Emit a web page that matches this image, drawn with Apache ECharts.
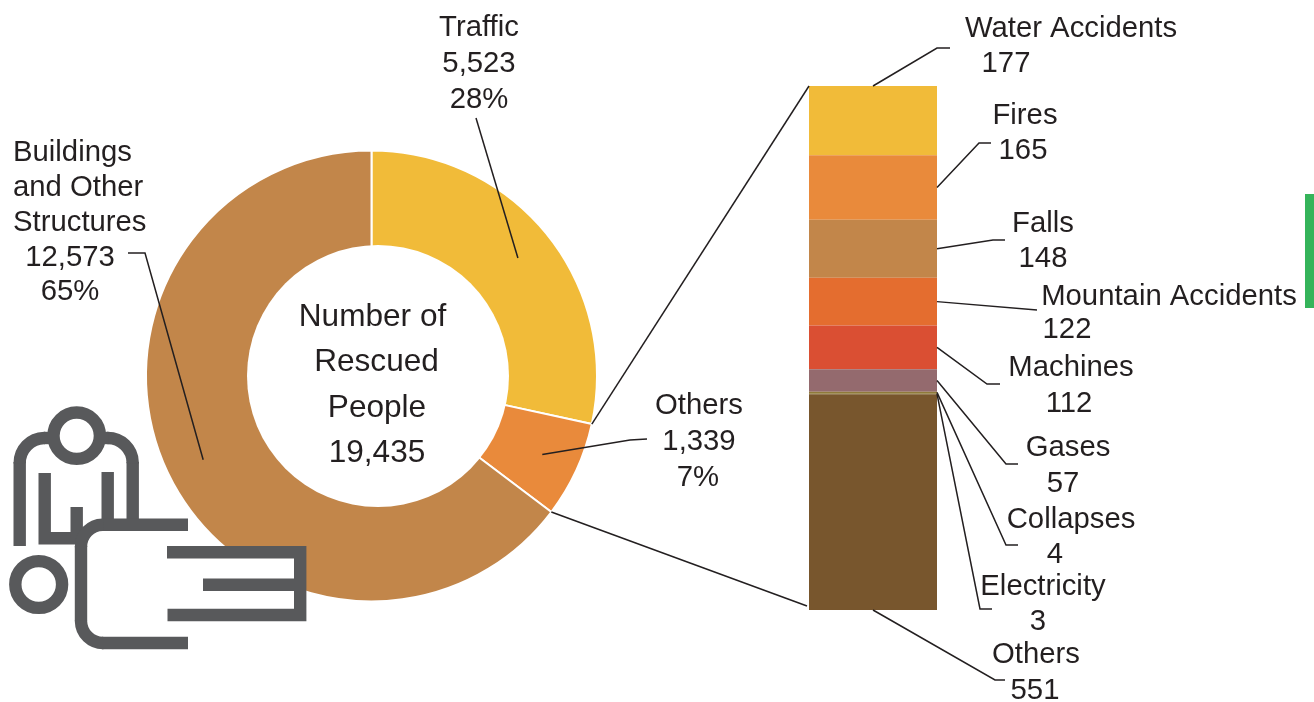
<!DOCTYPE html>
<html>
<head>
<meta charset="utf-8">
<title>Number of Rescued People</title>
<style>
  html, body { margin: 0; padding: 0; background: #fff; }
  #chart { width: 1314px; height: 702px; }
</style>
<script src="https://cdn.jsdelivr.net/npm/echarts@6/dist/echarts.min.js"></script>
</head>
<body>
<div id="chart"></div>
<script>
// Rescues by accident type
const totalLabel = '19,435';
const typeNames = ['Traffic', 'Others', 'Buildings and Other Structures'];
const typeValues = [5523, 1339, 12573];
const typeShares = ['28%', '7%', '65%'];

// Breakdown of the "Others" slice
const detailNames = ['Water Accidents', 'Fires', 'Falls', 'Mountain Accidents', 'Machines', 'Gases', 'Collapses', 'Electricity', 'Others'];
const detailValues = [177, 165, 148, 122, 112, 57, 4, 3, 551];

const typeColors = ['#f1bb39', '#e98a3b', '#c2864a'];
const detailColors = ['#f1bb39', '#e98a3b', '#c2864a', '#e46d2f', '#da4f33', '#946a6e', '#8f7a3a', '#8f7a3a', '#78562d'];

const INK = '#231f20';
const ICON = '#58595b';
const FONT = '29.3px "Liberation Sans", Arial, sans-serif';
const CENTRE_FONT = '31.6px "Liberation Sans", Arial, sans-serif';
const PIE = { cx: 371.5, cy: 376, inner: 118, outer: 225.5 };
const HOLE = { cx: 378, cy: 376, r: 131 };
const BAR = { left: 809, top: 86, width: 128, height: 524 };
const fmt = v => v.toLocaleString('en-US');

const chart = echarts.init(document.getElementById('chart'), null, { renderer: 'canvas' });

const detailTotal = detailValues.reduce((a, b) => a + b, 0);
const typeTotal = typeValues.reduce((a, b) => a + b, 0);

chart.setOption({
  animation: false,
  backgroundColor: '#fff',
  grid: { left: BAR.left, top: BAR.top, width: BAR.width, height: BAR.height },
  xAxis: { type: 'category', data: ['Others'], show: false },
  yAxis: { type: 'value', inverse: true, min: 0, max: detailTotal, show: false },
  series: [
    {
      type: 'pie',
      center: [PIE.cx, PIE.cy],
      radius: [PIE.inner, PIE.outer],
      startAngle: 90,
      clockwise: true,
      silent: true,
      label: { show: false },
      labelLine: { show: false },
      itemStyle: { borderColor: '#fff', borderWidth: 2 },
      data: typeNames.map((name, i) => ({
        name, value: typeValues[i], itemStyle: { color: typeColors[i] }
      }))
    },
    ...detailNames.map((name, i) => ({
      type: 'bar',
      name,
      stack: 'others',
      barWidth: '100%',
      silent: true,
      itemStyle: { color: detailColors[i] },
      data: [detailValues[i]]
    }))
  ]
});

// Point on the donut, given clockwise degrees from twelve o'clock
function onPie(deg, r) {
  const a = deg * Math.PI / 180;
  return [PIE.cx + r * Math.sin(a), PIE.cy - r * Math.cos(a)];
}
// Clockwise angle at the end of slice i
function sliceEnd(i) {
  return typeValues.slice(0, i + 1).reduce((a, b) => a + b, 0) / typeTotal * 360;
}
function sliceMid(i) {
  return sliceEnd(i) - typeValues[i] / typeTotal * 180;
}
// Vertical pixel of a cumulative value on the stacked bar
function barY(v) {
  return chart.convertToPixel({ yAxisIndex: 0 }, v);
}
function segmentMid(i) {
  const before = detailValues.slice(0, i).reduce((a, b) => a + b, 0);
  return barY(before + detailValues[i] / 2);
}

const elements = [];
const text = (t, x, y, align, font) => elements.push({
  type: 'text', z: 20,
  style: { text: t, x, y: y + 2, fill: INK, font: font || FONT, align: align || 'center', verticalAlign: 'middle' }
});
const line = (points, color, width, z) => elements.push({
  type: 'polyline', z: z || 15,
  shape: { points },
  style: { stroke: color || INK, lineWidth: width || 1.5, fill: null, lineJoin: 'miter' }
});

// Hole of the donut, sitting slightly right of the ring's centre
elements.push({
  type: 'circle', z: 10,
  shape: { cx: HOLE.cx, cy: HOLE.cy, r: HOLE.r },
  style: { fill: '#fff' }
});

// Centre of the donut
text('Number of', 372.5, 315, 'center', CENTRE_FONT);
text('Rescued', 376.5, 360, 'center', CENTRE_FONT);
text('People', 377, 406, 'center', CENTRE_FONT);
text(totalLabel, 377, 451, 'center', CENTRE_FONT);

// Slice labels
text(typeNames[0], 479, 26);
text(fmt(typeValues[0]), 479, 62);
text(typeShares[0], 479, 98);

text(typeNames[1], 699, 404);
text(fmt(typeValues[1]), 699, 440);
text(typeShares[1], 698, 476);

text('Buildings', 13, 151, 'left');
text('and Other', 13, 186, 'left');
text('Structures', 13, 221, 'left');
text(fmt(typeValues[2]), 70, 256);
text(typeShares[2], 70, 290);

// Slice leaders
const LEAD_R = 188;
line([onPie(sliceMid(0), LEAD_R), [476, 118]]);
line([onPie(sliceMid(1), LEAD_R), [630, 440], [647, 439]]);
line([onPie(sliceMid(2), LEAD_R), [145, 253], [128, 253]]);

// Lines joining the "Others" slice to the stacked bar
line([onPie(sliceEnd(0), PIE.outer), [BAR.left, BAR.top]]);
line([onPie(sliceEnd(1), PIE.outer), [BAR.left - 2, BAR.top + BAR.height - 4]]);

// Bar segment labels: name position, value position, leader elbow and tail
const detailLayout = [
  { name: [1071, 27],  value: [1006, 62],  elbow: [937, 48],  tail: [950, 48] },
  { name: [1025, 114], value: [1023, 149], elbow: [979, 143], tail: [991, 143] },
  { name: [1043, 222], value: [1043, 257], elbow: [993, 240], tail: [1005, 240] },
  { name: [1169, 295], value: [1067, 328], elbow: [1037, 310] },
  { name: [1071, 366], value: [1069, 402], elbow: [987, 384], tail: [1000, 384] },
  { name: [1068, 446], value: [1063, 482], elbow: [1006, 464], tail: [1018, 464] },
  { name: [1071, 518], value: [1055, 553], elbow: [1006, 545], tail: [1018, 545] },
  { name: [1043, 585], value: [1038, 620], elbow: [980, 609], tail: [992, 609] },
  { name: [1036, 653], value: [1035, 689], elbow: [995, 680], tail: [1005, 680] }
];
const barCentre = BAR.left + BAR.width / 2;
const barRight = BAR.left + BAR.width;
detailNames.forEach((name, i) => {
  const l = detailLayout[i];
  text(name, l.name[0], l.name[1]);
  text(fmt(detailValues[i]), l.value[0], l.value[1]);
  let start;
  if (i === 0) start = [barCentre, barY(0)];
  else if (i === detailNames.length - 1) start = [barCentre, barY(detailTotal)];
  else start = [barRight, segmentMid(i)];
  line(l.tail ? [start, l.elbow, l.tail] : [start, l.elbow]);
});

// Accent tab on the right edge
elements.push({
  type: 'rect', z: 5,
  shape: { x: 1305, y: 194, width: 9, height: 114 },
  style: { fill: '#35b45a' }
});

// Rescuer and casualty pictogram, drawn over the donut
const ICON_W = 12.4;
elements.push({
  type: 'rect', z: 30,
  shape: { x: 84, y: 550, width: 218, height: 68 },
  style: { fill: '#fff' }
});
const ring = (cx, cy, r) => elements.push({
  type: 'circle', z: 32,
  shape: { cx, cy, r },
  style: { fill: null, stroke: ICON, lineWidth: ICON_W }
});
const arc = (cx, cy, r, a0, a1) => elements.push({
  type: 'arc', z: 32,
  shape: { cx, cy, r, startAngle: a0 * Math.PI / 180, endAngle: a1 * Math.PI / 180, clockwise: true },
  style: { fill: null, stroke: ICON, lineWidth: ICON_W }
});
const bar = pts => line(pts, ICON, ICON_W, 32);

ring(76.7, 435.7, 23.2);
ring(38.7, 584.5, 23.4);

// shoulders and arms
bar([[19.7, 546], [19.7, 462]]);
arc(44.7, 463, 25, 179, 271);
bar([[44, 438], [50, 438]]);
bar([[132.7, 525], [132.7, 462]]);
arc(107.7, 463, 25, 269, 361);
bar([[103, 438], [108.5, 438]]);

// torso
bar([[44.7, 473], [44.7, 538.3], [82, 538.3]]);
bar([[76.7, 507], [76.7, 538]]);
bar([[107.7, 472], [107.7, 525]]);

// casualty's body outline
bar([[188, 524.7], [103, 524.7]]);
arc(103, 546.7, 22, 179, 271);
bar([[81, 546], [81, 621]]);
arc(103, 621, 22, 89, 181);
bar([[102, 643], [188, 643]]);

// casualty's legs
bar([[167, 552.3], [300.2, 552.3], [300.2, 615], [167.5, 615]]);
bar([[203, 584.7], [296, 584.7]]);

chart.setOption({ graphic: { elements } });
</script>
</body>
</html>
